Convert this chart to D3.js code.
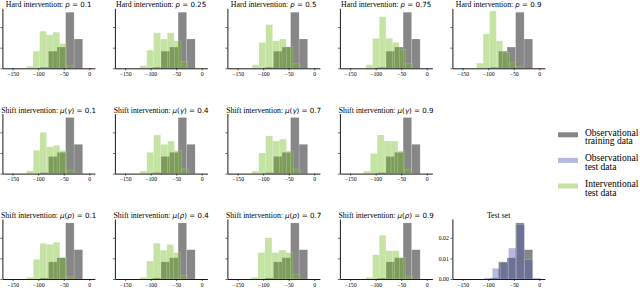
<!DOCTYPE html>
<html><head><meta charset="utf-8">
<script src="https://cdn.jsdelivr.net/npm/d3@7"></script>
<style>body{margin:0;background:#fff} svg{display:block}</style>
</head><body>
<svg id="c" width="640" height="288"></svg>
<script>
// ---------- data ----------
const xTickValues = [-150, -100, -50, 0];
const yTickValues = [0, 0.01, 0.02];
const yTickLabels = ["0.00", "0.01", "0.02"];

// observational training data (same in every panel)
const obsTrainEdges = [-96.3, -79.7, -63, -46.3, -29.7, -13];
const obsTrainDensity = [0.0005, 0.0083, 0.0103, 0.0272, 0.0142];

// observational test data (test set panel)
const obsTestEdges = [-107.6, -91.8, -76, -60.2, -44.4, -28.6, -12.8, 3];
const obsTestDensity = [0.0005, 0.0052, 0.008, 0.015, 0.0263, 0.0093, 0.0005];

// interventional test data: hard intervention p
const hardLevels = ["0.1", "0.25", "0.5", "0.75", "0.9"];
const hardBinStart = [-123, -121, -121.5, -119, -122.7];
const hardBinWidth = [13, 13.4, 13.3, 13, 12.8];
const hardDensity = [
  [0.001, 0.0083, 0.018, 0.0162, 0.0175, 0.012, 0.0015],
  [0.0012, 0.0088, 0.0172, 0.0142, 0.0172, 0.0133, 0.0033],
  [0.0017, 0.0125, 0.0212, 0.0133, 0.0142, 0.0105, 0.0025],
  [0.0017, 0.0145, 0.025, 0.0145, 0.0125, 0.009, 0.0025],
  [0.0025, 0.0167, 0.0278, 0.0133, 0.0078, 0.003, 0.001]
];

// shift intervention mu(gamma)
const gammaLevels = ["0.1", "0.4", "0.7", "0.9"];
const gammaBinStart = [-122.6, -121, -122, -124];
const gammaBinWidth = [13, 13.5, 13.5, 13.5];
const gammaDensity = [
  [0.0013, 0.0113, 0.02, 0.013, 0.0137, 0.0112, 0.0017],
  [0.0012, 0.0103, 0.0187, 0.0142, 0.0158, 0.0112, 0.0022],
  [0.0012, 0.01, 0.0183, 0.0158, 0.0167, 0.011, 0.0022],
  [0.0012, 0.0097, 0.0187, 0.0158, 0.0158, 0.011, 0.002]
];

// shift intervention mu(rho)
const rhoLevels = ["0.1", "0.4", "0.7", "0.9"];
const rhoBinStart = [-122.6, -121, -124, -119];
const rhoBinWidth = [13, 13.2, 13.7, 13];
const rhoDensity = [
  [0.0008, 0.0095, 0.0173, 0.0168, 0.0178, 0.0103, 0.0012],
  [0.0008, 0.0087, 0.0173, 0.014, 0.0167, 0.0128, 0.0017],
  [0.0008, 0.0128, 0.02, 0.0128, 0.014, 0.0128, 0.0023],
  [0.0008, 0.0117, 0.0212, 0.0137, 0.0137, 0.0103, 0.0012]
];

const legendLabels = [["Observational", "training data"], ["Observational", "test data"], ["Interventional", "test data"]];

// ---------- style / layout ----------
const SERIF = "'Liberation Serif', 'Times New Roman', serif";
const SANS = "'DejaVu Sans', sans-serif";
const GREY = "#7a7a7a", GREY_OP = 0.9;
const GREEN = "rgb(110,185,25)", GREEN_OP = 0.4;
const BLUE = "rgb(70,80,170)", BLUE_OP = 0.4;

const colLeft = [2.4, 114.9, 227.4, 339.9, 452.4];
const rowTop = [8.3, 113.6, 219];
const plotW = 92.5, plotH = 60;
const xDomain = [-170, 11];
const yDomain = [0, 0.0291];

const svg = d3.select("#c");

function binsFromEdges(edges, dens) {
  return dens.map((d, i) => ({x0: edges[i], x1: edges[i + 1], d}));
}
function binsFromStart(start, w, dens) {
  return dens.map((d, i) => ({x0: start + w * i, x1: start + w * (i + 1), d}));
}

function drawPanel(col, row, series, title, showYLabels) {
  const g = svg.append("g").attr("transform", `translate(${colLeft[col]},${rowTop[row]})`);
  const x = d3.scaleLinear().domain(xDomain).range([0, plotW]);
  const y = d3.scaleLinear().domain(yDomain).range([plotH, 0]);
  series.forEach(s => {
    g.append("g").selectAll("rect").data(s.bins).join("rect")
      .attr("x", d => x(d.x0)).attr("width", d => x(d.x1) - x(d.x0))
      .attr("y", d => y(d.d)).attr("height", d => plotH - y(d.d))
      .attr("fill", s.color).attr("fill-opacity", s.op)
      .attr("stroke", "#fff").attr("stroke-opacity", 0.35).attr("stroke-width", 0.4);
  });
  const xa = g.append("g").attr("transform", `translate(0,${plotH})`)
    .call(d3.axisBottom(x).tickValues(xTickValues).tickSize(2).tickSizeOuter(0).tickPadding(1.5)
      .tickFormat(d => d === 0 ? "0" : "\u2212" + Math.abs(d)));
  const ya = g.append("g")
    .call(d3.axisLeft(y).tickValues(yTickValues).tickSize(2).tickSizeOuter(0).tickPadding(1.5)
      .tickFormat((d, i) => showYLabels ? yTickLabels[i] : ""));
  [xa, ya].forEach(a => {
    a.select(".domain").attr("stroke", "#000").attr("stroke-width", 0.9);
    a.selectAll(".tick line").attr("stroke", "#000").attr("stroke-width", 0.6);
    a.selectAll(".tick text").attr("font-family", SERIF).attr("font-size", 5.8).attr("fill", "#000");
  });
  // title
  const t = g.append("text").attr("x", plotW / 2).attr("y", -1)
    .attr("text-anchor", "middle").attr("fill", "#000");
  title.forEach(p => {
    t.append("tspan").text(p.t)
      .attr("font-family", p.f === "serif" ? SERIF : SANS)
      .attr("font-size", p.f === "serif" ? 7.8 : 7.1)
      .attr("font-style", p.i ? "italic" : "normal");
  });
  // keep title inside the page
  const bb = t.node().getBBox();
  const absLeft = colLeft[col] + bb.x;
  if (absLeft < 1) t.attr("x", plotW / 2 + (1 - absLeft));
}

const grey = {bins: binsFromEdges(obsTrainEdges, obsTrainDensity), color: GREY, op: GREY_OP};

function mathTitle(prefix, sym, level) {
  const parts = [{t: prefix, f: "serif"}];
  if (sym === "p") parts.push({t: "p", f: "sans", i: true});
  else {
    parts.push({t: "\u03bc", f: "sans", i: true});
    parts.push({t: "(", f: "sans"});
    parts.push({t: sym, f: "sans", i: true});
    parts.push({t: ")", f: "sans"});
  }
  parts.push({t: " = " + level, f: "sans"});
  return parts;
}

hardLevels.forEach((lv, i) => {
  drawPanel(i, 0, [grey, {bins: binsFromStart(hardBinStart[i], hardBinWidth[i], hardDensity[i]), color: GREEN, op: GREEN_OP}],
    mathTitle("Hard intervention: ", "p", lv), false);
});
gammaLevels.forEach((lv, i) => {
  drawPanel(i, 1, [grey, {bins: binsFromStart(gammaBinStart[i], gammaBinWidth[i], gammaDensity[i]), color: GREEN, op: GREEN_OP}],
    mathTitle("Shift intervention: ", "\u03b3", lv), false);
});
rhoLevels.forEach((lv, i) => {
  drawPanel(i, 2, [grey, {bins: binsFromStart(rhoBinStart[i], rhoBinWidth[i], rhoDensity[i]), color: GREEN, op: GREEN_OP}],
    mathTitle("Shift intervention: ", "\u03c1", lv), false);
});
drawPanel(4, 2, [grey, {bins: binsFromEdges(obsTestEdges, obsTestDensity), color: BLUE, op: BLUE_OP}],
  [{t: "Test set", f: "serif"}], true);

// legend
const legendColors = [[GREY, GREY_OP], [BLUE, BLUE_OP], [GREEN, GREEN_OP]];
const lg = svg.append("g");
legendLabels.forEach((lab, i) => {
  const cy = 135.3 + 25.6 * i;
  lg.append("rect").attr("x", 558).attr("y", cy - 3).attr("width", 20).attr("height", 5)
    .attr("fill", legendColors[i][0]).attr("fill-opacity", legendColors[i][1]);
  lab.forEach((line, j) => {
    lg.append("text").attr("x", 585).attr("y", cy + 0.3 + 8.7 * j)
      .attr("font-family", SERIF).attr("font-size", 9.5).attr("fill", "#000").text(line);
  });
});
</script>
</body></html>
